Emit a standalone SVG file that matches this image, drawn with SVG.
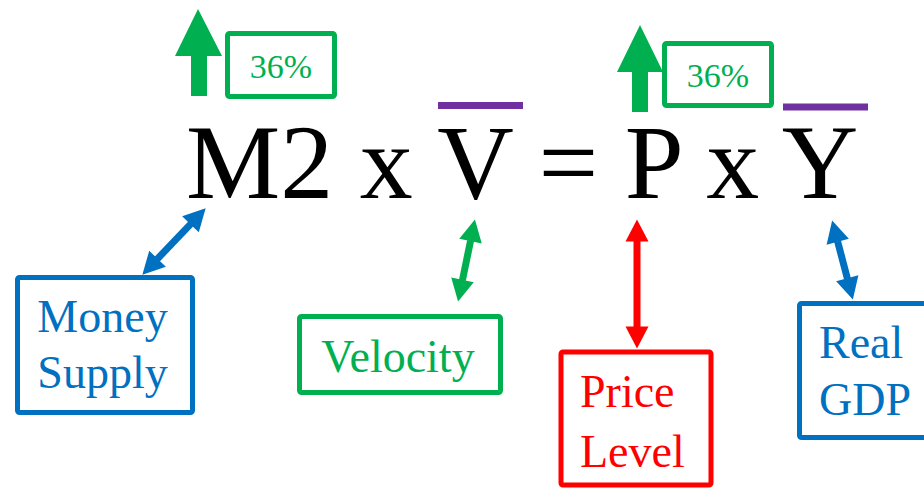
<svg xmlns="http://www.w3.org/2000/svg" width="924" height="490" viewBox="0 0 924 490">
  <style>
    .eq { font-family: "Liberation Serif", "Times New Roman", serif; font-size: 106px; fill: #000; }
    .lbl { font-family: "Liberation Serif", "Times New Roman", serif; font-size: 46px; }
    .pct { font-family: "Liberation Serif", "Times New Roman", serif; font-size: 34px; fill: #00B050; text-anchor: middle; }
    .box { fill: #fff; stroke-width: 5; stroke-linejoin: round; }
    .blue { stroke: #0070C0; }
    .green { stroke: #00B050; }
    .red { stroke: #FF0000; }
    .bar { stroke: #7030A0; stroke-width: 7; }
    .conn { stroke-width: 7; fill: none; }
  </style>
  <defs>
    <marker id="hb" markerUnits="userSpaceOnUse" markerWidth="24" markerHeight="24" viewBox="0 -12 23 24" refX="0.5" refY="0" orient="auto-start-reverse">
      <path d="M0,-11.5 L22,0 L0,11.5 z" fill="#0070C0"/>
    </marker>
    <marker id="hg" markerUnits="userSpaceOnUse" markerWidth="24" markerHeight="24" viewBox="0 -12 23 24" refX="0.5" refY="0" orient="auto-start-reverse">
      <path d="M0,-11.5 L22,0 L0,11.5 z" fill="#00B050"/>
    </marker>
    <marker id="hr" markerUnits="userSpaceOnUse" markerWidth="24" markerHeight="24" viewBox="0 -12 23 24" refX="0.5" refY="0" orient="auto-start-reverse">
      <path d="M0,-11.5 L22,0 L0,11.5 z" fill="#FF0000"/>
    </marker>
  </defs>
  <rect width="924" height="490" fill="#fff"/>

  <g id="equation">
    <text class="eq" x="186" y="198">M2 x V = P x Y</text>
    <line class="bar" x1="438" y1="105.5" x2="523" y2="105.5"/>
    <line class="bar" x1="783" y1="107" x2="868" y2="107"/>
  </g>

  <g id="m2-increase">
    <polygon points="198,9 222,56 207,56 207,96 191,96 191,56 175,56" fill="#00B050"/>
    <rect class="box green" x="227.5" y="33.5" width="107" height="63" rx="2"/>
    <text class="pct" x="281" y="78">36%</text>
  </g>

  <g id="p-increase">
    <polygon points="640,25 663,72 648,72 648,112 632,112 632,72 617,72" fill="#00B050"/>
    <rect class="box green" x="664.5" y="43.5" width="107" height="62" rx="2"/>
    <text class="pct" x="718" y="87">36%</text>
  </g>

  <g id="money-supply">
    <rect class="box blue" x="17.5" y="277.5" width="175" height="135" rx="2"/>
    <text class="lbl" x="102.5" y="332" fill="#0070C0" text-anchor="middle">Money</text>
    <text class="lbl" x="102.5" y="388" fill="#0070C0" text-anchor="middle">Supply</text>
  </g>

  <g id="velocity">
    <rect class="box green" x="299.5" y="316.5" width="201" height="76" rx="2"/>
    <text class="lbl" x="398" y="372" fill="#00B050" text-anchor="middle">Velocity</text>
  </g>

  <g id="price-level">
    <rect class="box red" x="561" y="352" width="150" height="133" rx="2" stroke-width="6"/>
    <text class="lbl" x="580" y="407" fill="#FF0000">Price</text>
    <text class="lbl" x="580" y="467" fill="#FF0000">Level</text>
  </g>

  <g id="real-gdp">
    <rect class="box blue" x="799.5" y="303.5" width="156" height="134" rx="2"/>
    <text class="lbl" x="819" y="358" fill="#0070C0">Real</text>
    <text class="lbl" x="819" y="415" fill="#0070C0">GDP</text>
  </g>

  <g id="connectors">
    <line class="conn" stroke="#0070C0" x1="190.8" y1="223.9" x2="157.2" y2="259.1" marker-start="url(#hb)" marker-end="url(#hb)"/>
    <line class="conn" stroke="#00B050" x1="470.6" y1="240.6" x2="462.4" y2="280.4" marker-start="url(#hg)" marker-end="url(#hg)"/>
    <line class="conn" stroke="#FF0000" x1="637" y1="241" x2="637" y2="327" marker-start="url(#hr)" marker-end="url(#hr)"/>
    <line class="conn" stroke="#0070C0" x1="837.6" y1="241.3" x2="847.4" y2="278.7" marker-start="url(#hb)" marker-end="url(#hb)"/>
  </g>
</svg>
